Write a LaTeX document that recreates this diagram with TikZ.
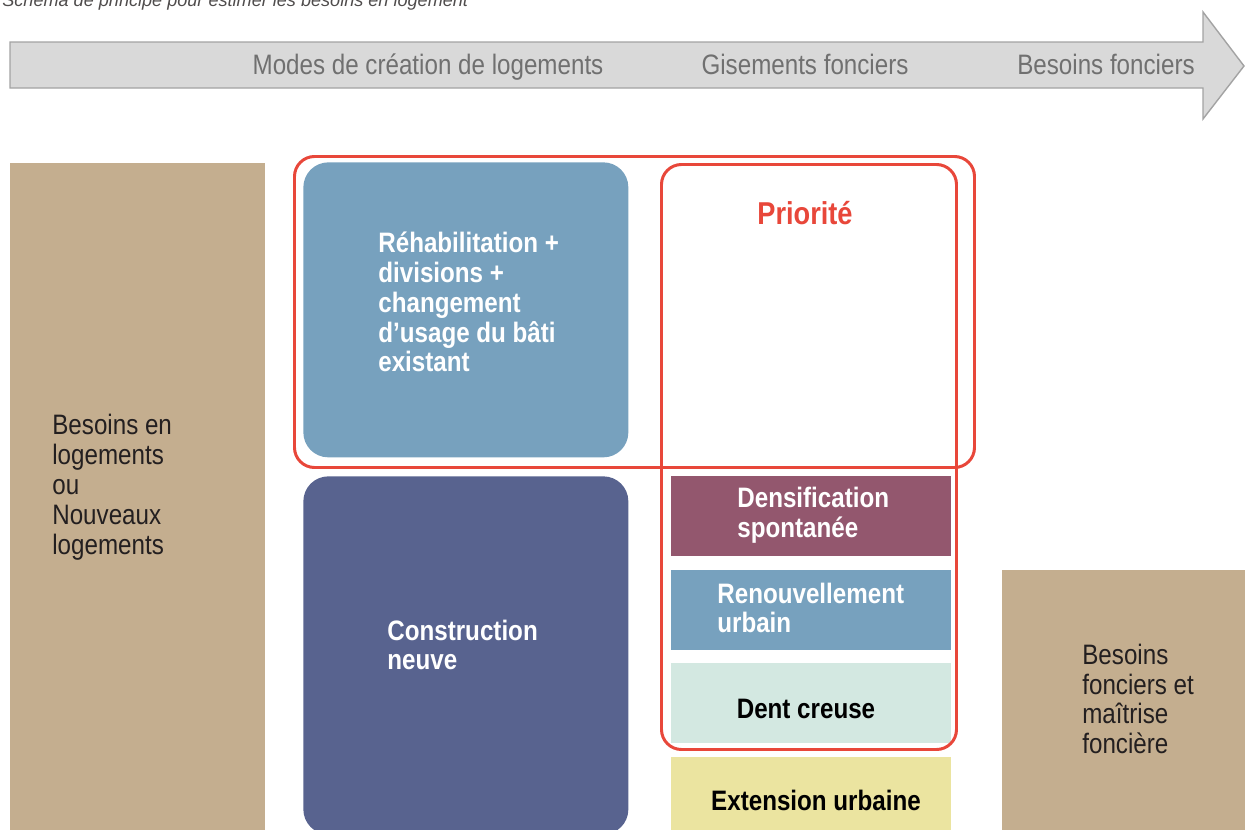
\documentclass[tikz,border=0pt]{standalone}
\usepackage{fontspec}
\setmainfont{Liberation Sans}
\newfontfamily\narrowfont[FakeStretch=0.86]{Liberation Sans}
\usetikzlibrary{positioning}
\definecolor{arrowfill}{HTML}{D9D9D9}
\definecolor{arrowline}{HTML}{A3A3A3}
\definecolor{arrowtext}{HTML}{707070}
\definecolor{tan}{HTML}{C4AE8F}
\definecolor{rehablue}{HTML}{77A1BE}
\definecolor{neuveblue}{HTML}{58638F}
\definecolor{densif}{HTML}{93576E}
\definecolor{dentgreen}{HTML}{D3E8E1}
\definecolor{extyellow}{HTML}{EBE4A0}
\definecolor{prio}{HTML}{E8473A}
\definecolor{darktext}{HTML}{231F20}
\newcommand{\pu}{0.02cm}

\begin{document}
\begin{tikzpicture}[
    x=0.02cm, y=-0.02cm,
    box/.style={rectangle, inner sep=0pt, anchor=north west},
    roundbox/.style={box, rounded corners=0.5cm},
    frame/.style={box, draw=prio, line width=1.7pt, rounded corners=0.4cm},
    txt/.style={inner sep=0pt, align=left, anchor=west, font=\narrowfont\fontsize{16}{17}\selectfont},
    whitetxt/.style={txt, text=white, font=\narrowfont\bfseries\fontsize{16}{17}\selectfont},
    blacktxt/.style={txt, anchor=center, text=black, font=\narrowfont\bfseries\fontsize{16}{17}\selectfont},
    headtxt/.style={inner sep=0pt, anchor=base, text=arrowtext, font=\narrowfont\fontsize{16}{17}\selectfont}
]
    \useasboundingbox (0,0) rectangle (1245,829);

    % Caption, cut at the top
    \node[inner sep=0pt, anchor=base west, text=darktext!80,
          font=\itshape\fontsize{10.3}{12}\selectfont] (caption) at (2,6)
        {Schéma de principe pour estimer les besoins en logement};

    % Big arrow
    \draw[fill=arrowfill, draw=arrowline, line width=0.8pt]
        (10,42) -- (1203,42) -- (1203,12) -- (1244,66) -- (1203,119)
        -- (1203,88) -- (10,88) -- cycle;
    \node[headtxt] (modes) at (428,74) {Modes de création de logements};
    \node[headtxt] (gisements) at (805,74) {Gisements fonciers};
    \node[headtxt] (foncier) at (1106,74) {Besoins fonciers};

    % Left and right columns
    \node[box, fill=tan, minimum width=255*\pu, minimum height=680*\pu] (besoinsL) at (10,163) {};
    \node[txt, text=darktext] (besoinsLtxt) at (52,487) {Besoins en\\logements\\ou\\Nouveaux\\logements};

    \node[box, fill=tan, minimum width=250*\pu, minimum height=270*\pu] (besoinsR) at (1002,570) {};
    \node[txt, text=darktext] (besoinsRtxt) at (1082,699) {Besoins\\fonciers et\\maîtrise\\foncière};

    % Modes of creation
    \node[roundbox, fill=rehablue, minimum width=325*\pu, minimum height=295*\pu] (rehab) at (303,162) {};
    \node[whitetxt] (rehabtxt) at (378,302) {Réhabilitation +\\divisions +\\changement\\d’usage du bâti\\existant};

    \node[roundbox, fill=neuveblue, minimum width=325*\pu, minimum height=358*\pu] (neuve) at (303,476) {};
    \node[whitetxt] (neuvetxt) at (387,645) {Construction\\neuve};

    % Land sources
    \node[box, fill=densif, minimum width=280*\pu, minimum height=80*\pu] (densif) at (671,476) {};
    \node[whitetxt] (densiftxt) at (737,515) {Densification\\spontanée};

    \node[box, fill=rehablue, minimum width=280*\pu, minimum height=80*\pu] (renouv) at (671,570) {};
    \node[whitetxt] (renouvtxt) at (717,608) {Renouvellement\\urbain};

    \node[box, fill=dentgreen, minimum width=280*\pu, minimum height=80*\pu] (dent) at (671,663) {};
    \node[blacktxt] (denttxt) at (806,709) {Dent creuse};

    \node[box, fill=extyellow, minimum width=280*\pu, minimum height=85*\pu] (extens) at (671,757) {};
    \node[blacktxt] (extenstxt) at (816,800) {Extension urbaine};

    % Priority frames
    \node[frame, minimum width=295*\pu, minimum height=585*\pu] (prioB) at (660,163) {};
    \node[frame, minimum width=680*\pu, minimum height=311*\pu] (prioA) at (293,155) {};
    \node[inner sep=1pt, fill=white, text=prio,
          font=\narrowfont\bfseries\fontsize{18}{20}\selectfont] (priotxt) at (805,213) {Priorité};

\end{tikzpicture}
\end{document}
